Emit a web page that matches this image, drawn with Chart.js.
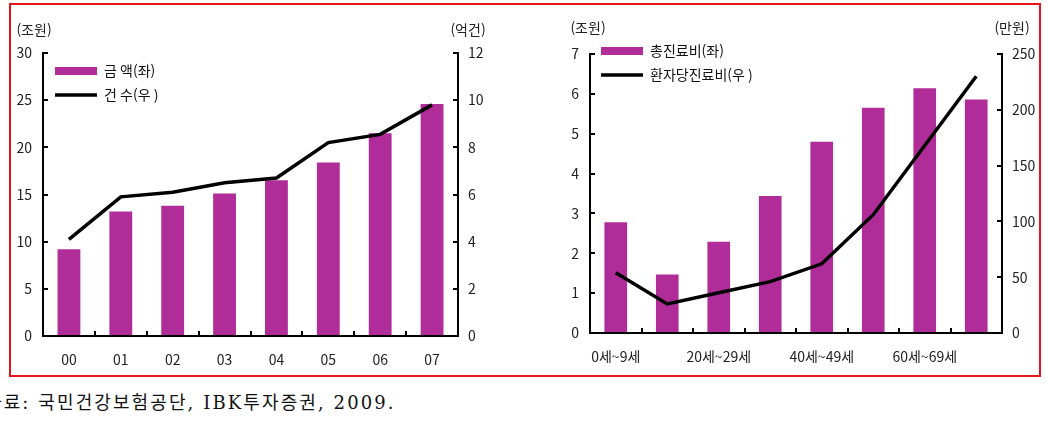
<!DOCTYPE html>
<html lang="ko">
<head>
<meta charset="utf-8">
<script src="https://cdn.jsdelivr.net/npm/chart.js@4/dist/chart.umd.min.js"></script>
<style>
body{margin:0;width:1048px;height:422px;background:#fff;position:relative;overflow:hidden;font-family:'Noto Sans CJK KR',sans-serif;}
#frame{position:absolute;left:9px;top:3px;width:1028px;height:370px;border:2px solid #e8141b;z-index:5;pointer-events:none;}
.box{position:absolute;top:0;height:378px;}
#source{position:absolute;left:-15px;top:388px;font-size:18px;letter-spacing:2.1px;font-family:'DejaVu Serif','Noto Sans CJK KR',serif;white-space:nowrap;color:#111;}
</style>
</head>
<body>
<div class="box" style="left:0;width:520px"><canvas id="left"></canvas></div>
<div class="box" style="left:520px;width:528px"><canvas id="right"></canvas></div>
<div id="frame"></div>
<div id="source">자료: 국민건강보험공단, IBK투자증권, 2009.</div>
<script>
// left chart: 연도별 금액 / 건수
const years = ['00', '01', '02', '03', '04', '05', '06', '07'];
const amount = [9.2, 13.2, 13.8, 15.1, 16.5, 18.4, 21.5, 24.6];
const claims = [4.1, 5.9, 6.1, 6.5, 6.7, 8.2, 8.55, 9.8];
const amountTicks = [0, 5, 10, 15, 20, 25, 30];
const claimTicks = [0, 2, 4, 6, 8, 10, 12];

// right chart: 연령별 진료비
const ages = ['0세~9세', '10세~19세', '20세~29세', '30세~39세', '40세~49세', '50세~59세', '60세~69세', '70세 이상'];
const totalCost = [2.78, 1.47, 2.29, 3.44, 4.8, 5.65, 6.14, 5.86];
const perPatient = [54, 26, 36, 46, 62, 106, 168, 230];
const totalTicks = [0, 1, 2, 3, 4, 5, 6, 7];
const perTicks = [0, 50, 100, 150, 200, 250];

Chart.defaults.font.family = "'Noto Sans CJK KR', sans-serif";
Chart.defaults.font.size = 14;
Chart.defaults.color = '#222';

const purple = '#b02c98';

const unitLabels = {
  id: 'unitLabels',
  afterDraw(chart, args, o) {
    const { ctx, scales } = chart;
    ctx.save();
    ctx.font = "14px 'Noto Sans CJK KR'";
    ctx.fillStyle = '#222';
    ctx.textAlign = 'center';
    ctx.textBaseline = 'middle';
    ctx.fillText(o.left, scales.y.right + o.lx, o.y);
    ctx.fillText(o.right, scales.y1.left + o.rx, o.y);
    ctx.restore();
  }
};

// move the legend inside the plot to where the original has it
const legendShift = {
  id: 'legendShift',
  afterLayout(chart, args, o) {
    const L = chart.legend, ca = chart.chartArea;
    const w = L.width, h = L.height;
    L.left = ca.left + o.dx; L.top = ca.top + o.dy;
    L.right = L.left + w; L.bottom = L.top + h;
  }
};

function yAxis(pos, ticks, pad, width) {
  return {
    position: pos,
    min: ticks[0],
    max: ticks[ticks.length - 1],
    afterBuildTicks: s => { s.ticks = ticks.map(v => ({ value: v })); },
    afterFit: s => { s.width = width; },
    border: { color: '#000', width: 2 },
    grid: { drawOnChartArea: false, color: '#000', lineWidth: 2, tickLength: -5 },
    ticks: { padding: pad }
  };
}

function xAxis(everyOther) {
  return {
    offset: true,
    afterFit: s => { s.height = 30; },
    border: { color: '#000', width: 2 },
    grid: { drawOnChartArea: false, color: '#000', lineWidth: 2, tickLength: -5, offset: true },
    ticks: {
      padding: 20, autoSkip: false, maxRotation: 0,
      callback: function (v, i) { return (!everyOther || i % 2 === 0) ? this.getLabelForValue(v) : ''; }
    }
  };
}

function makeChart(id, labels, bars, line, names, axes, pad, units, shift) {
  return new Chart(document.getElementById(id), {
    type: 'bar',
    data: {
      labels: labels,
      datasets: [{
        label: names[0],
        data: bars,
        backgroundColor: purple,
        borderWidth: 0,
        barPercentage: 0.44,
        categoryPercentage: 1,
        pointStyle: 'rect',
        yAxisID: 'y',
        order: 1
      }, {
        type: 'line',
        label: names[1],
        data: line,
        borderColor: '#000',
        backgroundColor: '#000',
        borderWidth: 3.5,
        pointRadius: 0,
        pointBorderWidth: 3.5,
        pointStyle: 'line',
        tension: 0,
        yAxisID: 'y1',
        order: 0
      }]
    },
    options: {
      responsive: true,
      maintainAspectRatio: false,
      animation: false,
      layout: { padding: pad },
      scales: axes,
      plugins: {
        legend: {
          position: 'chartArea',
          align: 'start',
          labels: {
            usePointStyle: true, pointStyleWidth: 42, boxHeight: 8, padding: 10, color: '#111',
            sort: (a, b) => a.datasetIndex - b.datasetIndex
          }
        },
        tooltip: { enabled: false },
        unitLabels: units,
        legendShift: shift
      }
    },
    plugins: [unitLabels, legendShift]
  });
}

makeChart('left', years, amount, claims, ['금 액(좌)', '건 수(우 )'],
  { x: xAxis(false), y: yAxis('left', amountTicks, 16, 33), y1: yAxis('right', claimTicks, 15, 40) },
  { left: 10, right: 22, top: 53, bottom: 12 },
  { left: '(조원)', right: '(억건)', lx: -9, rx: 10, y: 30 },
  { dx: 2, dy: 1 });

makeChart('right', ages, totalCost, perPatient, ['총진료비(좌)', '환자당진료비(우 )'],
  { x: xAxis(true), y: yAxis('left', totalTicks, 16, 33), y1: yAxis('right', perTicks, 15, 40) },
  { left: 37, right: 6, top: 54, bottom: 15 },
  { left: '(조원)', right: '(만원)', lx: -2, rx: 10, y: 28 },
  { dx: 1, dy: -20 });
</script>
</body>
</html>
